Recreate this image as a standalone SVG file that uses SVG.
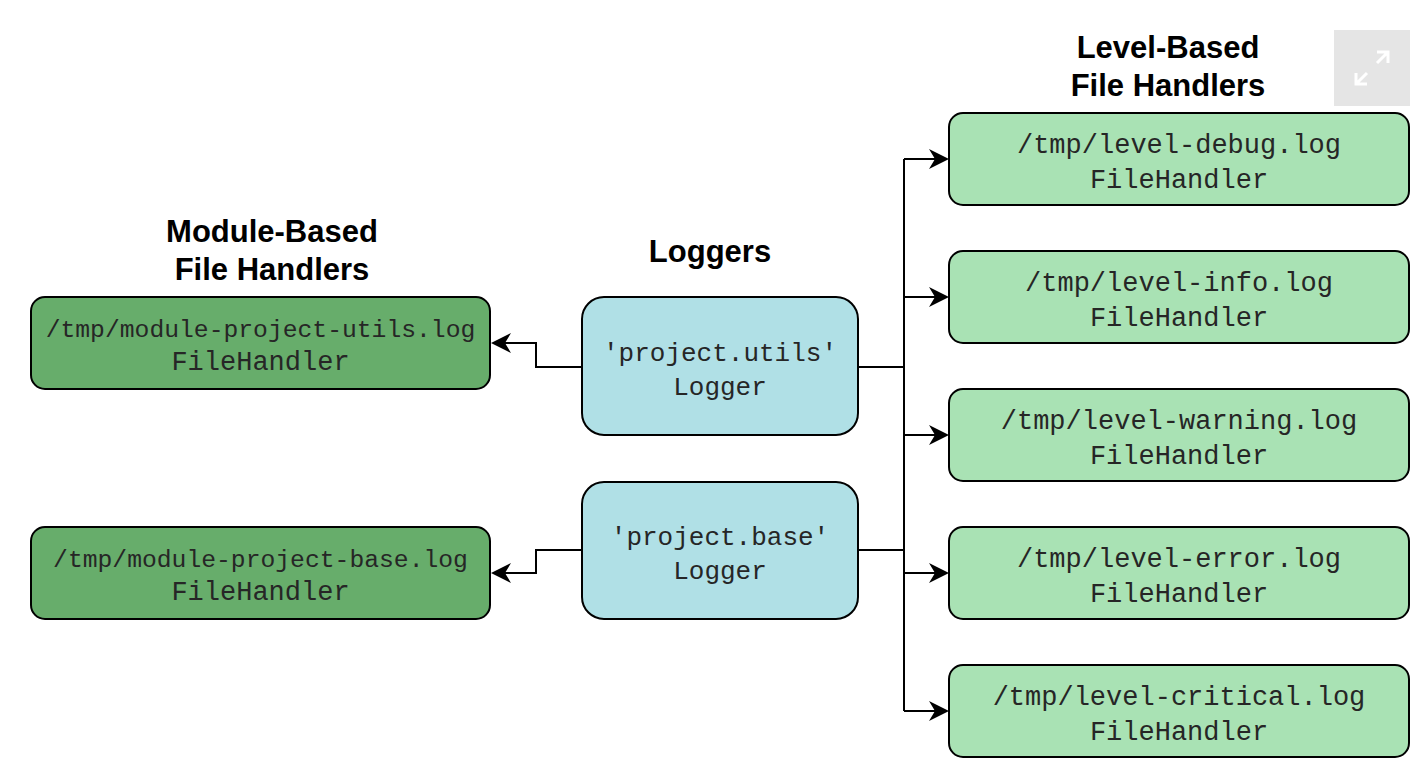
<svg xmlns="http://www.w3.org/2000/svg" xmlns:xlink="http://www.w3.org/1999/xlink" width="1428" height="770" viewBox="0 0 1428 770">
<defs>
<style>
.title{font-family:"Liberation Sans",Arial,sans-serif;font-weight:bold;font-size:31px;fill:#000;text-anchor:middle}
.mono{font-family:"Liberation Mono","Courier New",monospace;fill:#262626;text-anchor:middle;font-size:27px}
.small{font-size:24.7px}
.logt{font-size:26px}
.box{stroke:#000;stroke-width:2}
.mod{fill:#67ad6b}
.lvl{fill:#a9e2b4}
.lgr{fill:#b0e0e6}
.conn{fill:none;stroke:#000;stroke-width:2}
.head{fill:#000}
</style>
<path id="ah" d="M0,0 L-20,-10 L-14,0 L-20,10 Z"/>
</defs>
<rect width="1428" height="770" fill="#fff"/>

<g id="fullscreen-icon">
<rect x="1334" y="30" width="76" height="76" fill="#e5e5e5"/>
<path d="M1356,73 L1356,84 L1367,84 M1356,84 L1367,73 M1377,52 L1388,52 L1388,63 M1388,52 L1377,63" fill="none" stroke="#fff" stroke-width="3"/>
</g>

<g id="titles">
<text class="title" x="272" y="242">Module-Based</text>
<text class="title" x="272" y="280">File Handlers</text>
<text class="title" x="710" y="262">Loggers</text>
<text class="title" x="1168" y="58">Level-Based</text>
<text class="title" x="1168" y="96">File Handlers</text>
</g>

<g id="connectors">
<path class="conn" d="M582,367 L536,367 L536,343 L500,343"/>
<path class="conn" d="M582,550 L536,550 L536,573 L500,573"/>
<path class="conn" d="M858,367 L904,367"/>
<path class="conn" d="M858,550 L904,550"/>
<path class="conn" d="M904,159 L904,711"/>
<path class="conn" d="M904,159 L940,159"/>
<path class="conn" d="M904,297 L940,297"/>
<path class="conn" d="M904,435 L940,435"/>
<path class="conn" d="M904,573 L940,573"/>
<path class="conn" d="M904,711 L940,711"/>
<use xlink:href="#ah" href="#ah" class="head" transform="translate(491,343) scale(-1,1)"/>
<use xlink:href="#ah" href="#ah" class="head" transform="translate(491,573) scale(-1,1)"/>
<use xlink:href="#ah" href="#ah" class="head" transform="translate(949,159)"/>
<use xlink:href="#ah" href="#ah" class="head" transform="translate(949,297)"/>
<use xlink:href="#ah" href="#ah" class="head" transform="translate(949,435)"/>
<use xlink:href="#ah" href="#ah" class="head" transform="translate(949,573)"/>
<use xlink:href="#ah" href="#ah" class="head" transform="translate(949,711)"/>
</g>

<g id="module-utils">
<rect class="box mod" x="31" y="297" width="459" height="92" rx="14"/>
<text class="mono small" x="260.5" y="337">/tmp/module-project-utils.log</text>
<text class="mono" x="260.5" y="370">FileHandler</text>
</g>
<g id="module-base">
<rect class="box mod" x="31" y="527" width="459" height="92" rx="14"/>
<text class="mono small" x="260.5" y="567">/tmp/module-project-base.log</text>
<text class="mono" x="260.5" y="600">FileHandler</text>
</g>

<g id="logger-utils">
<rect class="box lgr" x="582" y="297" width="276" height="138" rx="22"/>
<text class="mono logt" x="720" y="361">'project.utils'</text>
<text class="mono logt" x="720" y="395">Logger</text>
</g>
<g id="logger-base">
<rect class="box lgr" x="582" y="482" width="276" height="137" rx="22"/>
<text class="mono logt" x="720" y="545">'project.base'</text>
<text class="mono logt" x="720" y="579">Logger</text>
</g>

<g id="level-debug">
<rect class="box lvl" x="949" y="113" width="460" height="92" rx="14"/>
<text class="mono" x="1179" y="153">/tmp/level-debug.log</text>
<text class="mono" x="1179" y="188">FileHandler</text>
</g>
<g id="level-info">
<rect class="box lvl" x="949" y="251" width="460" height="92" rx="14"/>
<text class="mono" x="1179" y="291">/tmp/level-info.log</text>
<text class="mono" x="1179" y="326">FileHandler</text>
</g>
<g id="level-warning">
<rect class="box lvl" x="949" y="389" width="460" height="92" rx="14"/>
<text class="mono" x="1179" y="429">/tmp/level-warning.log</text>
<text class="mono" x="1179" y="464">FileHandler</text>
</g>
<g id="level-error">
<rect class="box lvl" x="949" y="527" width="460" height="92" rx="14"/>
<text class="mono" x="1179" y="567">/tmp/level-error.log</text>
<text class="mono" x="1179" y="602">FileHandler</text>
</g>
<g id="level-critical">
<rect class="box lvl" x="949" y="665" width="460" height="92" rx="14"/>
<text class="mono" x="1179" y="705">/tmp/level-critical.log</text>
<text class="mono" x="1179" y="740">FileHandler</text>
</g>
</svg>
